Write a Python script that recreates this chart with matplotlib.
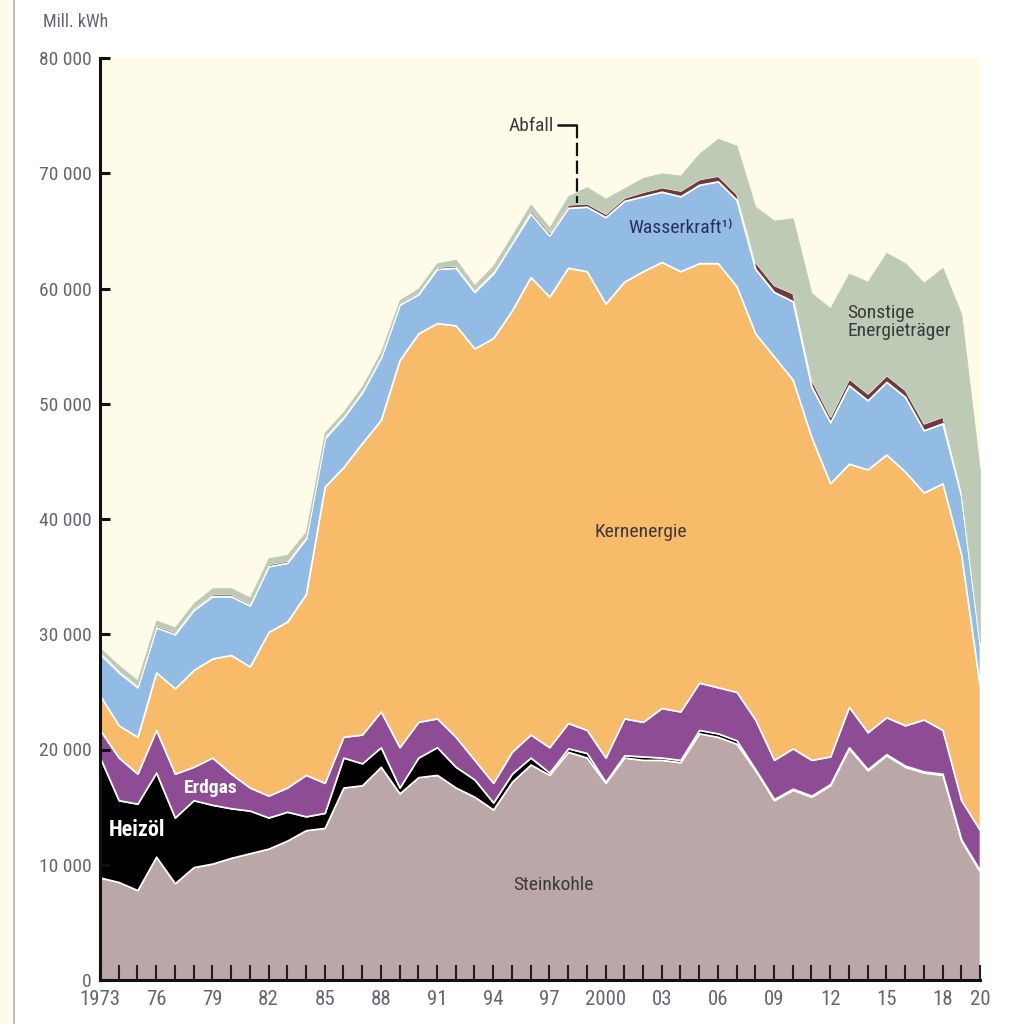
import numpy as np
import matplotlib.pyplot as plt
from matplotlib import font_manager
from matplotlib.lines import Line2D
from matplotlib.patches import Rectangle

# schmale Schrift suchen, falls vorhanden
fonts = font_manager.fontManager.ttflist
namen = {f.name for f in fonts}
schmal = None
for kandidat in ['Liberation Sans Narrow', 'Roboto Condensed', 'Open Sans Condensed',
                 'Noto Sans Condensed', 'DejaVu Sans Condensed']:
    if kandidat in namen:
        schmal = kandidat
        break
if schmal is None:
    cond = [f.name for f in fonts if f.stretch in ('condensed', 'semi-condensed', 'extra-condensed')]
    if cond:
        schmal = cond[0]
        plt.rcParams['font.stretch'] = 'condensed'
if schmal is None:
    schmal = 'DejaVu Sans'
plt.rcParams['font.family'] = [schmal, 'DejaVu Sans']

# Stromerzeugung in Mill. kWh, 1973-2020
jahre = list(range(1973, 2021))
steinkohle = [8900, 8500, 7800, 10700, 8400, 9800, 10100, 10600, 11000, 11400,
              12100, 13000, 13200, 16700, 16900, 18500, 16200, 17600, 17800, 16700,
              15900, 14800, 17200, 18700, 17800, 19800, 19300, 17100, 19300, 19100,
              19100, 18900, 21400, 21100, 20500, 18200, 15600, 16500, 15900, 16900,
              20100, 18200, 19500, 18500, 18000, 17800, 12100, 9400]
heizoel = [10400, 7100, 7500, 7300, 5700, 5800, 5100, 4300, 3700, 2700,
           2500, 1200, 1300, 2600, 1900, 1700, 500, 1700, 2400, 1800,
           1500, 600, 700, 600, 200, 300, 400, 100, 200, 300,
           200, 200, 300, 300, 300, 100, 100, 100, 100, 100,
           100, 100, 100, 100, 100, 100, 100, 100]
erdgas = [2400, 3700, 2600, 3700, 3800, 2900, 4100, 3000, 2000, 1900,
          2100, 3600, 2600, 1800, 2500, 3100, 3500, 3100, 2500, 2600,
          1700, 1700, 1900, 2000, 2200, 2200, 2000, 2100, 3200, 3000,
          4300, 4200, 4100, 4000, 4200, 4300, 3400, 3500, 3100, 2400,
          3500, 3200, 3200, 3500, 4500, 3800, 3400, 3500]
kernenergie = [3000, 2800, 3200, 5000, 7400, 8400, 8600, 10300, 10500, 14200,
               14400, 15700, 25700, 23400, 25300, 25300, 33600, 33700, 34300, 35700,
               35700, 38600, 38300, 39700, 39100, 39500, 39800, 39400, 37900, 39100,
               38700, 38200, 36400, 36800, 35200, 33500, 35000, 32000, 28000, 23700,
               21100, 22800, 22800, 22000, 19700, 21400, 21300, 12400]
wasserkraft = [3600, 4600, 4300, 3900, 4700, 5200, 5400, 5100, 5300, 5700,
               5100, 4800, 4200, 4300, 4400, 5400, 4800, 3400, 4700, 5000,
               4900, 5600, 5800, 5500, 5300, 5200, 5600, 7500, 7000, 6500,
               6100, 6500, 6800, 7100, 7500, 5600, 5600, 6800, 4400, 5300,
               6800, 6000, 6300, 6500, 5400, 5200, 5100, 3600]
abfall = [200, 200, 200, 200, 200, 200, 200, 200, 200, 200,
          200, 200, 200, 200, 200, 200, 200, 200, 200, 200,
          200, 200, 200, 300, 300, 300, 300, 300, 300, 400,
          400, 500, 500, 500, 500, 600, 600, 700, 600, 500,
          600, 600, 600, 600, 600, 600, 400, 300]
sonstige = [300, 400, 400, 400, 400, 400, 500, 500, 500, 500,
            500, 400, 300, 300, 300, 300, 200, 300, 300, 500,
            400, 500, 500, 500, 400, 700, 1400, 1300, 800, 1200,
            1200, 1300, 2200, 3200, 4200, 4800, 5600, 6500, 7500, 9400,
            9100, 9700, 10600, 11000, 12200, 12900, 15400, 14900]

farben = ['#bba7a8', '#000000', '#8e4c94', '#f8bb6a', '#93bce4', '#6e3a3c', '#bccab6']

xtick_jahre = [1973, 1976, 1979, 1982, 1985, 1988, 1991, 1994, 1997, 2000,
               2003, 2006, 2009, 2012, 2015, 2018, 2020]
xtick_labels = ['1973', '76', '79', '82', '85', '88', '91', '94', '97', '2000',
                '03', '06', '09', '12', '15', '18', '20']
ytick_werte = [0, 10000, 20000, 30000, 40000, 50000, 60000, 70000, 80000]
ytick_labels = ['0', '10 000', '20 000', '30 000', '40 000', '50 000', '60 000', '70 000', '80 000']

grau = '#656575'
dunkel = '#3a3a3a'

fig = plt.figure(figsize=(10.15, 10.24), dpi=100)
fig.add_artist(Rectangle((0, 0), 14 / 1015, 1, transform=fig.transFigure, color='#fdfbee', zorder=0))
fig.add_artist(Line2D([14 / 1015, 14 / 1015], [0, 1], transform=fig.transFigure, color='#b0b0b0', lw=1.2))

ax = fig.add_axes([100 / 1015, 44 / 1024, 880 / 1015, 922 / 1024])
ax.set_facecolor('#fefbe9')

polys = ax.stackplot(jahre, steinkohle, heizoel, erdgas, kernenergie, wasserkraft, abfall, sonstige,
                     colors=farben, edgecolor='white', linewidth=1.2)
polys[6].set_edgecolor('#bccab6')
polys[6].set_linewidth(0.5)

ax.set_xlim(1973, 2020)
ax.set_ylim(0, 80000)

ax.set_xticks(xtick_jahre)
ax.set_xticklabels(xtick_labels)
ax.set_xticks(jahre, minor=True)
ax.tick_params(axis='x', which='both', direction='in', length=11, width=1.5, color='#2b1b1b',
               labelsize=15, labelcolor=grau, pad=7)
ax.set_yticks(ytick_werte)
ax.set_yticklabels(ytick_labels)
ax.tick_params(axis='y', direction='in', length=7, width=2.2, color='#111111',
               labelsize=14, labelcolor=grau, pad=6)

for s in ['top', 'right']:
    ax.spines[s].set_visible(False)
for s in ['left', 'bottom']:
    ax.spines[s].set_linewidth(2.2)
    ax.spines[s].set_color('#111111')

fig.text(43 / 1015, 1 - 22 / 1024, 'Mill. kWh', fontsize=13, color=grau, va='center')

# Beschriftungen im Diagramm
ax.text(2001.9, 38900, 'Kernenergie', fontsize=14, color=dunkel, ha='center', va='center')
ax.text(1997.2, 8240, 'Steinkohle', fontsize=14, color=dunkel, ha='center', va='center')
ax.text(2001.2, 65250, 'Wasserkraft¹⁾', fontsize=14, color='#2a2f5a', ha='left', va='center')
ax.text(2012.9, 57100, 'Sonstige\nEnergieträger', fontsize=14, color=dunkel, ha='left', va='center',
        linespacing=0.95)
ax.text(1978.9, 16660, 'Erdgas', fontsize=14, color='white', fontweight='bold', ha='center', va='center')
ax.text(1975.0, 13000, 'Heizöl', fontsize=16, color='white', fontweight='bold', ha='center', va='center')
ax.text(1997.25, 74100, 'Abfall', fontsize=14, color=dunkel, ha='right', va='center')
ax.plot([1997.4, 1998.5], [74190, 74190], color='#111111', lw=1.8, solid_capstyle='butt')
ax.plot([1998.5, 1998.5], [74190, 67420], color='#111111', lw=1.6, linestyle=(0, (6, 2)))

fig.savefig('out.png', dpi=100)
